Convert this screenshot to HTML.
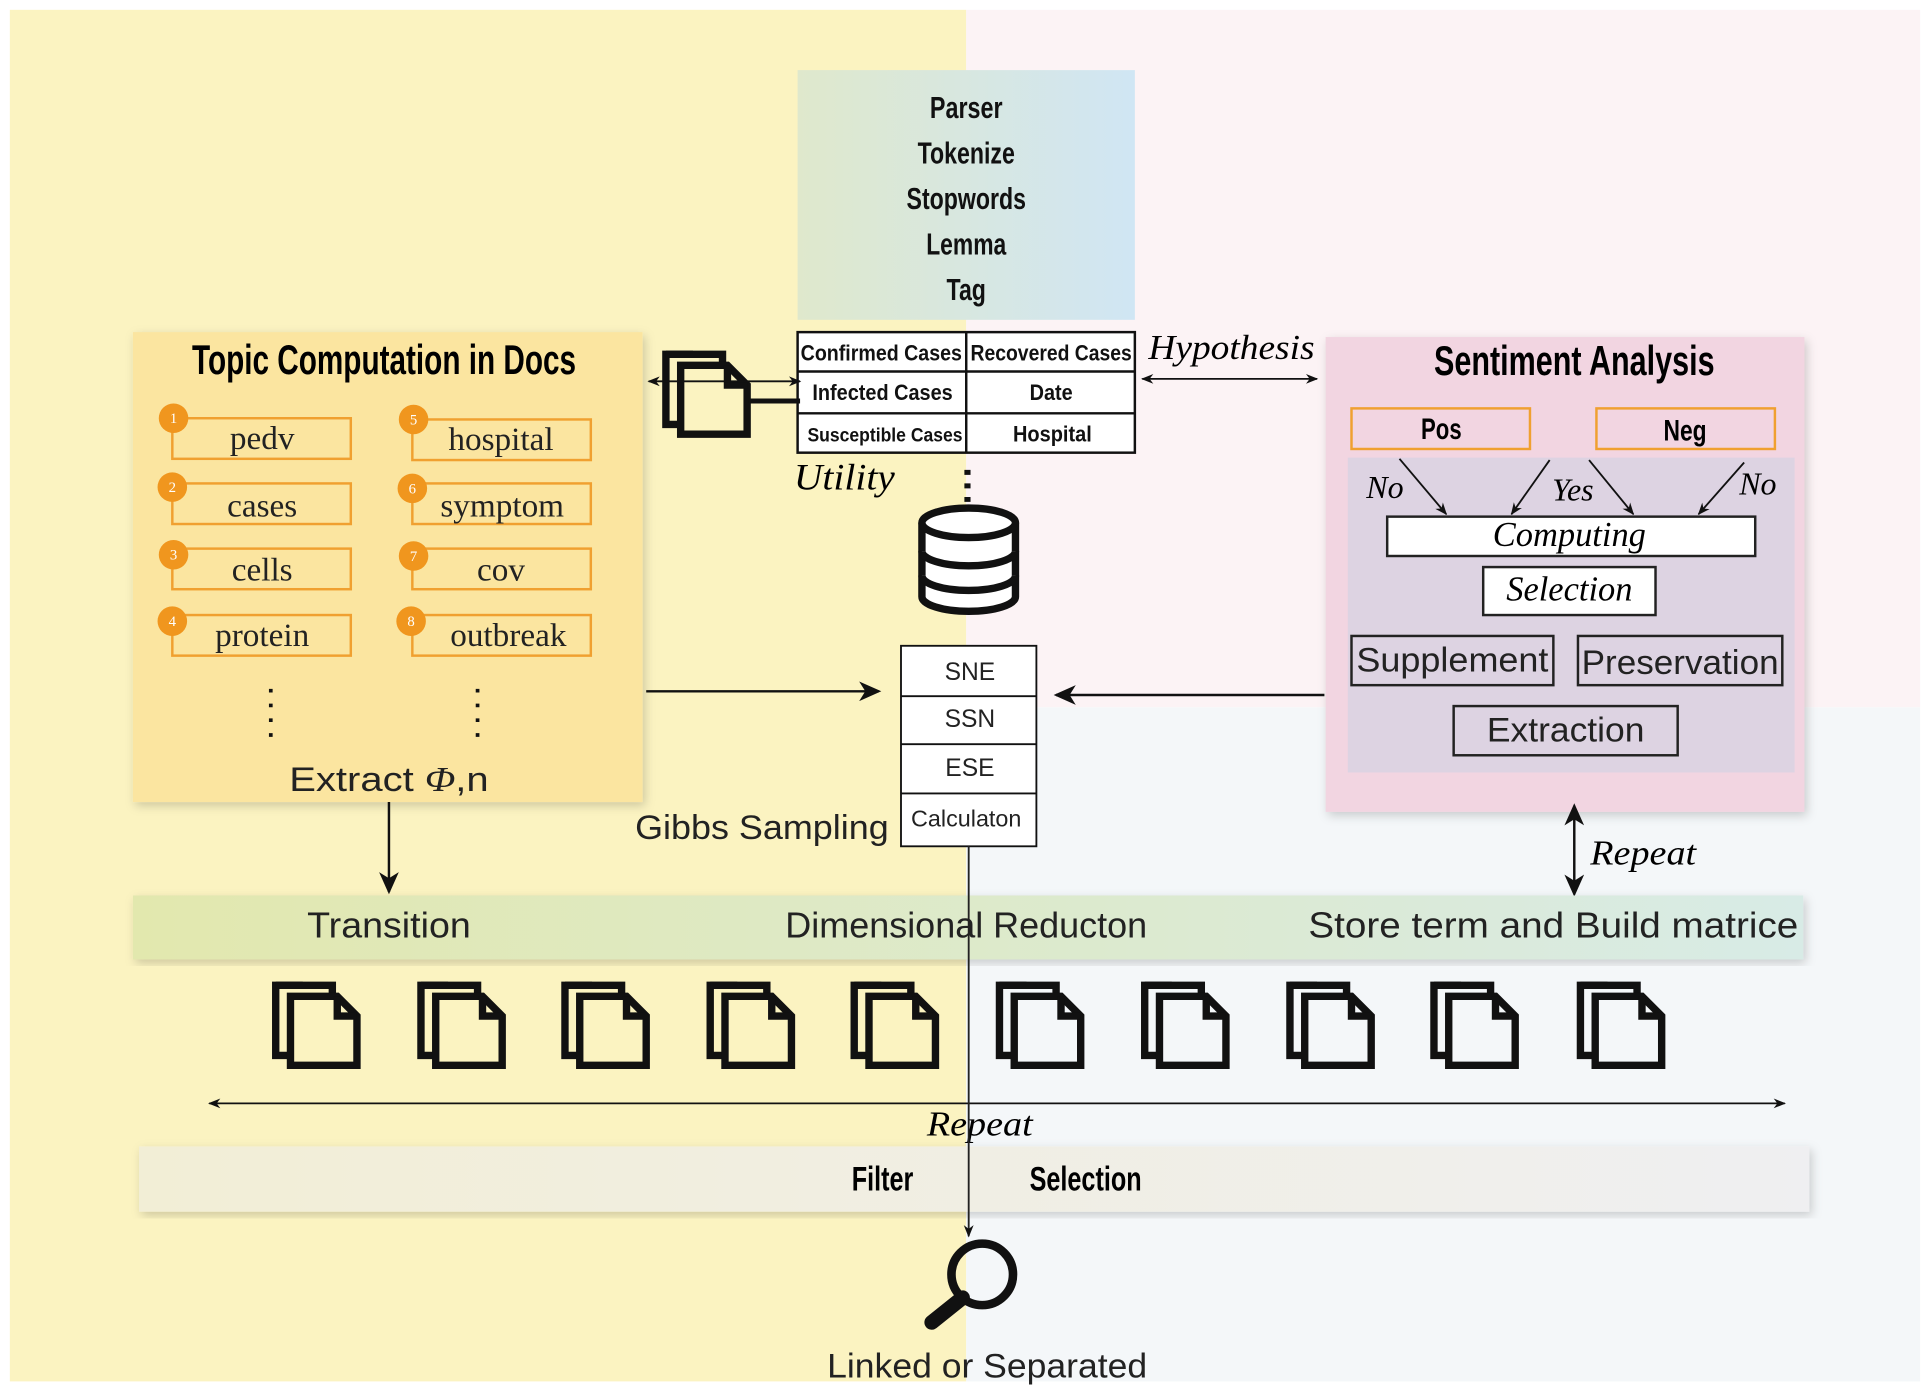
<!DOCTYPE html>
<html><head><meta charset="utf-8"><style>html,body{margin:0;padding:0;background:#fff}svg{display:block}</style></head><body>
<svg width="1930" height="1390" viewBox="0 0 1568 1130" preserveAspectRatio="none" xmlns="http://www.w3.org/2000/svg">
<defs>
<marker id="a" markerWidth="10" markerHeight="10" refX="9" refY="5" orient="auto-start-reverse" markerUnits="userSpaceOnUse"><path d="M0,1 L10,5 L0,9 L3,5 z" fill="#111"/></marker>
<marker id="b" markerWidth="18" markerHeight="16" refX="16" refY="8" orient="auto-start-reverse" markerUnits="userSpaceOnUse"><path d="M0,0 L18,8 L0,16 L5,8 z" fill="#111"/></marker>
<linearGradient id="g1" x1="0" x2="1"><stop offset="0" stop-color="#dfe8cc"/><stop offset="1" stop-color="#d0e6f4"/></linearGradient>
<linearGradient id="g2" x1="0" x2="1"><stop offset="0" stop-color="#e2e8ae"/><stop offset="1" stop-color="#d8ebe6"/></linearGradient>
<linearGradient id="g3" x1="0" x2="1"><stop offset="0" stop-color="#f2eed6"/><stop offset="1" stop-color="#efeff1"/></linearGradient>
<g id="doc" fill="none" stroke="#111" stroke-width="6" stroke-linejoin="miter"><path d="M24,3 H2 V60 H14"/><path d="M2,3 H48 V12"/><path d="M14,12 H52 L68,28 V68 H14 Z"/><path d="M52,12 V28 H68"/></g>
<filter id="sh"><feDropShadow dx="2" dy="3" stdDeviation="4" flood-opacity="0.18"/></filter>
</defs>
<rect x="8" y="8" width="777" height="1115" fill="#fbf3c1"/>
<rect x="785" y="8" width="775" height="567" fill="#fcf3f5"/>
<rect x="785" y="575" width="775" height="548" fill="#f4f7f9"/>

<rect x="648" y="57" width="274" height="203" fill="url(#g1)"/>
<g font-family="'Liberation Sans',sans-serif" font-weight="bold" font-size="25" text-anchor="middle" fill="#111" lengthAdjust="spacingAndGlyphs">
<text x="785" y="96" textLength="59" lengthAdjust="spacingAndGlyphs">Parser</text><text x="785" y="133" textLength="79" lengthAdjust="spacingAndGlyphs">Tokenize</text><text x="785" y="170" textLength="97" lengthAdjust="spacingAndGlyphs">Stopwords</text><text x="785" y="207" textLength="65" lengthAdjust="spacingAndGlyphs">Lemma</text><text x="785" y="244" textLength="32" lengthAdjust="spacingAndGlyphs">Tag</text>
</g>
<g fill="#fff" stroke="#111" stroke-width="2"><rect x="648" y="270" width="274" height="98"/></g>
<g stroke="#111" stroke-width="2"><line x1="648" y1="302" x2="922" y2="302"/><line x1="648" y1="336" x2="922" y2="336"/><line x1="785" y1="270" x2="785" y2="368"/></g>
<g font-family="'Liberation Sans',sans-serif" font-weight="bold" font-size="18" text-anchor="middle" fill="#111">
<text x="716" y="293" textLength="131" lengthAdjust="spacingAndGlyphs">Confirmed Cases</text><text x="854" y="293" textLength="131" lengthAdjust="spacingAndGlyphs">Recovered Cases</text>
<text x="717" y="325" textLength="114" lengthAdjust="spacingAndGlyphs">Infected Cases</text><text x="854" y="325" textLength="35" lengthAdjust="spacingAndGlyphs">Date</text>
<text x="719" y="359" font-size="16" textLength="126" lengthAdjust="spacingAndGlyphs">Susceptible Cases</text><text x="855" y="359" textLength="64" lengthAdjust="spacingAndGlyphs">Hospital</text>
</g>
<text x="933" y="292" font-family="'Liberation Serif',serif" font-style="italic" font-size="28" textLength="135" lengthAdjust="spacingAndGlyphs">Hypothesis</text>
<line x1="928" y1="308" x2="1070" y2="308" stroke="#111" stroke-width="1.5" marker-start="url(#a)" marker-end="url(#a)"/>
<text x="645" y="398" font-family="'Liberation Serif',serif" font-style="italic" font-size="30" textLength="82" lengthAdjust="spacingAndGlyphs">Utility</text>
<line x1="786" y1="382" x2="786" y2="420" stroke="#111" stroke-width="5" stroke-dasharray="4,7"/>
<g fill="#fff" stroke="#111" stroke-width="6">
<path d="M749,425 V485 A38,12 0 0 0 825,485 V425"/>
<path d="M749,448 A38,12 0 0 0 825,448"/><path d="M749,468 A38,12 0 0 0 825,468"/>
<ellipse cx="787" cy="425" rx="38" ry="12"/>
</g>

<rect x="108" y="270" width="414" height="382" fill="#fbe5a0" filter="url(#sh)"/>
<text x="312" y="304" text-anchor="middle" font-family="'Liberation Sans',sans-serif" font-weight="bold" font-size="34" textLength="312" lengthAdjust="spacingAndGlyphs">Topic Computation in Docs</text>
<g fill="none" stroke="#f0a030" stroke-width="2">
<rect x="140" y="340" width="145" height="33"/><rect x="140" y="393" width="145" height="33"/><rect x="140" y="446" width="145" height="33"/><rect x="140" y="500" width="145" height="33"/>
<rect x="335" y="341" width="145" height="33"/><rect x="335" y="393" width="145" height="33"/><rect x="335" y="446" width="145" height="33"/><rect x="335" y="500" width="145" height="33"/>
</g>
<g fill="#f0961e"><circle cx="141" cy="340" r="12"/><circle cx="140" cy="396" r="12"/><circle cx="141" cy="451" r="12"/><circle cx="140" cy="505" r="12"/><circle cx="336" cy="341" r="12"/><circle cx="335" cy="397" r="12"/><circle cx="336" cy="452" r="12"/><circle cx="334" cy="505" r="12"/></g>
<g font-family="'Liberation Serif',serif" font-size="12" text-anchor="middle" fill="#fff"><text x="141" y="344">1</text><text x="140" y="400">2</text><text x="141" y="455">3</text><text x="140" y="509">4</text><text x="336" y="345">5</text><text x="335" y="401">6</text><text x="336" y="456">7</text><text x="334" y="509">8</text></g>
<g font-family="'Liberation Serif',serif" font-size="27" text-anchor="middle" fill="#222">
<text x="213" y="365">pedv</text><text x="213" y="420">cases</text><text x="213" y="472">cells</text><text x="213" y="525">protein</text>
<text x="407" y="366">hospital</text><text x="408" y="420">symptom</text><text x="407" y="472">cov</text><text x="413" y="525">outbreak</text>
</g>
<g stroke="#111" stroke-width="3" stroke-dasharray="3,9"><line x1="220" y1="560" x2="220" y2="600"/><line x1="388" y1="560" x2="388" y2="600"/></g>
<text x="316" y="643" text-anchor="middle" font-family="'Liberation Sans',sans-serif" font-size="28" fill="#222" textLength="162" lengthAdjust="spacingAndGlyphs">Extract <tspan font-family="'Liberation Serif',serif" font-style="italic">Φ</tspan>,n</text>

<use href="#doc" x="539" y="285"/>
<line x1="608" y1="326" x2="650" y2="326" stroke="#111" stroke-width="4"/>
<line x1="527" y1="310" x2="650" y2="310" stroke="#111" stroke-width="1.5" marker-start="url(#a)" marker-end="url(#a)"/>

<line x1="525" y1="562" x2="714" y2="562" stroke="#111" stroke-width="2" marker-end="url(#b)"/>
<line x1="1076" y1="565" x2="858" y2="565" stroke="#111" stroke-width="2" marker-end="url(#b)"/>
<rect x="732" y="525" width="110" height="163" fill="#fff" stroke="#111" stroke-width="1.5"/>
<g stroke="#111" stroke-width="1.5"><line x1="732" y1="566" x2="842" y2="566"/><line x1="732" y1="605" x2="842" y2="605"/><line x1="732" y1="645" x2="842" y2="645"/></g>
<g font-family="'Liberation Sans',sans-serif" font-size="20" text-anchor="middle" fill="#222"><text x="788" y="553">SNE</text><text x="788" y="591">SSN</text><text x="788" y="631">ESE</text><text x="785" y="672" font-size="19">Calculaton</text></g>
<text x="516" y="682" font-family="'Liberation Sans',sans-serif" font-size="28" fill="#222" textLength="206" lengthAdjust="spacingAndGlyphs">Gibbs Sampling</text>

<rect x="1077" y="274" width="389" height="386" fill="#f2d5e1" filter="url(#sh)"/>
<text x="1279" y="305" text-anchor="middle" font-family="'Liberation Sans',sans-serif" font-weight="bold" font-size="34" textLength="228" lengthAdjust="spacingAndGlyphs">Sentiment Analysis</text>
<g fill="none" stroke="#f0a030" stroke-width="2"><rect x="1098" y="332" width="145" height="33"/><rect x="1297" y="332" width="145" height="33"/></g>
<g font-family="'Liberation Sans',sans-serif" font-weight="bold" font-size="24" text-anchor="middle"><text x="1171" y="357" textLength="33" lengthAdjust="spacingAndGlyphs">Pos</text><text x="1369" y="358" textLength="35" lengthAdjust="spacingAndGlyphs">Neg</text></g>
<rect x="1095" y="372" width="363" height="256" fill="#ddd3e2"/>
<g stroke="#111" stroke-width="1.5"><line x1="1137" y1="373" x2="1175" y2="418" marker-end="url(#a)"/><line x1="1259" y1="374" x2="1228" y2="418" marker-end="url(#a)"/><line x1="1291" y1="374" x2="1327" y2="418" marker-end="url(#a)"/><line x1="1417" y1="376" x2="1380" y2="418" marker-end="url(#a)"/></g>
<g font-family="'Liberation Serif',serif" font-style="italic" font-size="26"><text x="1110" y="405">No</text><text x="1261" y="407">Yes</text><text x="1413" y="402">No</text></g>
<rect x="1127" y="420" width="299" height="32" fill="#fff" stroke="#222" stroke-width="2"/>
<rect x="1205" y="461" width="140" height="39" fill="#fff" stroke="#222" stroke-width="2"/>
<g font-family="'Liberation Serif',serif" font-style="italic" font-size="28" text-anchor="middle"><text x="1275" y="444">Computing</text><text x="1275" y="488">Selection</text></g>
<g fill="none" stroke="#222" stroke-width="2"><rect x="1098" y="517" width="164" height="40"/><rect x="1282" y="517" width="166" height="40"/><rect x="1181" y="574" width="182" height="40"/></g>
<g font-family="'Liberation Sans',sans-serif" font-size="28" text-anchor="middle" fill="#222"><text x="1180" y="546" textLength="156" lengthAdjust="spacingAndGlyphs">Supplement</text><text x="1365" y="548" textLength="160" lengthAdjust="spacingAndGlyphs">Preservation</text><text x="1272" y="603" textLength="128" lengthAdjust="spacingAndGlyphs">Extraction</text></g>

<line x1="1279" y1="655" x2="1279" y2="727" stroke="#111" stroke-width="2" marker-start="url(#b)" marker-end="url(#b)"/>
<text x="1292" y="703" font-family="'Liberation Serif',serif" font-style="italic" font-size="28" textLength="86" lengthAdjust="spacingAndGlyphs">Repeat</text>
<line x1="316" y1="652" x2="316" y2="725" stroke="#111" stroke-width="2" marker-end="url(#b)"/>

<rect x="108" y="728" width="1357" height="52" fill="url(#g2)" filter="url(#sh)"/>
<g font-family="'Liberation Sans',sans-serif" font-size="29" text-anchor="middle" fill="#222"><text x="316" y="762" textLength="133" lengthAdjust="spacingAndGlyphs">Transition</text><text x="785" y="762" textLength="294" lengthAdjust="spacingAndGlyphs">Dimensional Reducton</text><text x="1262" y="762" textLength="398" lengthAdjust="spacingAndGlyphs">Store term and Build matrice</text></g>

<use href="#doc" x="222" y="798"/><use href="#doc" x="340" y="798"/><use href="#doc" x="457" y="798"/><use href="#doc" x="575" y="798"/><use href="#doc" x="692" y="798"/>
<use href="#doc" x="810" y="798"/><use href="#doc" x="928" y="798"/><use href="#doc" x="1046" y="798"/><use href="#doc" x="1163" y="798"/><use href="#doc" x="1282" y="798"/>

<line x1="170" y1="897" x2="1450" y2="897" stroke="#111" stroke-width="1.5" marker-start="url(#a)" marker-end="url(#a)"/>
<rect x="113" y="932" width="1357" height="53" fill="url(#g3)" filter="url(#sh)"/>
<text x="796" y="923" text-anchor="middle" font-family="'Liberation Serif',serif" font-style="italic" font-size="28" textLength="86" lengthAdjust="spacingAndGlyphs">Repeat</text>
<g font-family="'Liberation Sans',sans-serif" font-weight="bold" font-size="28" text-anchor="middle"><text x="717" y="968" textLength="50" lengthAdjust="spacingAndGlyphs">Filter</text><text x="882" y="968" textLength="91" lengthAdjust="spacingAndGlyphs">Selection</text></g>
<line x1="787" y1="688" x2="787" y2="1005" stroke="#222" stroke-width="1.5" marker-end="url(#a)"/>
<circle cx="798" cy="1036" r="25" fill="none" stroke="#111" stroke-width="7"/>
<line x1="782" y1="1055" x2="757" y2="1075" stroke="#111" stroke-width="12" stroke-linecap="round"/>
<text x="802" y="1120" text-anchor="middle" font-family="'Liberation Sans',sans-serif" font-size="28" fill="#222" textLength="260" lengthAdjust="spacingAndGlyphs">Linked or Separated</text>
</svg>
</body></html>
